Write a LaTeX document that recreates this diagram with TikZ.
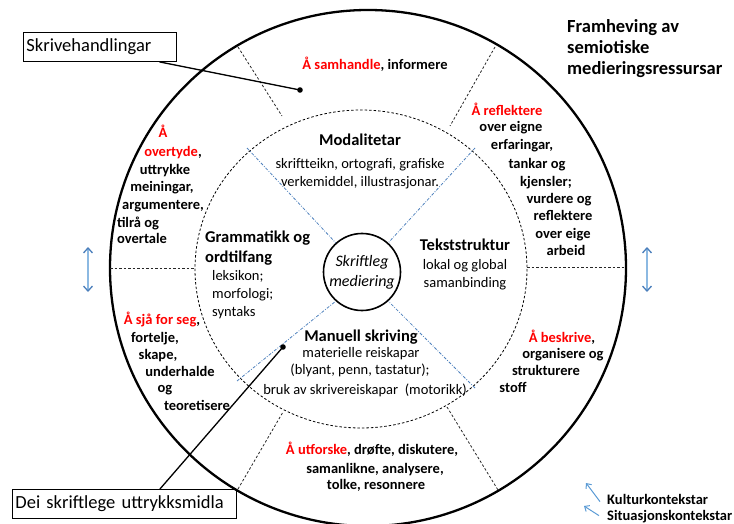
\documentclass[tikz,border=0pt]{standalone}
\usepackage{fontspec}
\setmainfont{Carlito}
\usetikzlibrary{arrows.meta,calc}
\definecolor{arrblue}{HTML}{5B9BD5}
\definecolor{headblue}{HTML}{4A7EBB}
\definecolor{lineblue}{HTML}{4F81BD}
\tikzset{
  segt/.style={font=\bfseries\fontsize{14.5}{17}\selectfont, inner sep=0pt, anchor=base},
  head/.style={font=\bfseries\fontsize{16.5}{19}\selectfont, inner sep=0pt, anchor=base},
  body/.style={font=\fontsize{14.5}{17}\selectfont, inner sep=0pt, anchor=base},
  titl/.style={font=\bfseries\fontsize{18.5}{21}\selectfont, inner sep=0pt, anchor=base west},
  callbox/.style={draw, line width=0.9pt, font=\fontsize{18.5}{21}\selectfont, inner sep=0pt, minimum height=29pt, anchor=north west, align=left},
  callline/.style={line width=1.3pt},
  ringdiv/.style={dash pattern=on 2.5pt off 2pt, line width=0.8pt, black!85},
  innerdiv/.style={dash pattern=on 3pt off 1.5pt on 0.8pt off 1.5pt, line width=0.8pt, lineblue},
  dblarrow/.style={{Straight Barb[length=5pt,width=9pt,line width=1.3pt,color=headblue]}-{Straight Barb[length=5pt,width=9pt,line width=1.3pt,color=headblue]}, line width=1.3pt, arrblue!70},
  legarrow/.style={-{Straight Barb[length=4pt,width=7pt,line width=1pt]}, line width=1pt, arrblue},
}
\newcommand{\red}[1]{\textcolor{red}{#1}}
\begin{document}
\begin{tikzpicture}[x=1pt,y=-1pt]
\useasboundingbox (0,0) rectangle (734,524);
% outer circle
\draw[line width=2.3pt] (368,268) circle [radius=258];
% inner dashed circle
\draw[dash pattern=on 2.5pt off 2pt, line width=0.8pt] (361,269) ellipse [x radius=166, y radius=159];
% ring dividers
\draw[ringdiv] (238,47) -- (282,116);
\draw[ringdiv] (495,47) -- (450,126);
\draw[ringdiv] (110,268) -- (195,268);
\draw[ringdiv] (527,267) -- (626,267);
\draw[ringdiv] (238,489) -- (283,412);
\draw[ringdiv] (447,407) -- (498,490);
% center node
\node[draw, circle, line width=1.6pt, minimum size=77pt, inner sep=0pt, align=center,
      font=\itshape\fontsize{16}{20}\selectfont] (c) at (362,272) {Skriftleg\\mediering};
% inner blue dividers
\draw[innerdiv] (247,148) -- (c.132);
\draw[innerdiv] (475,148) -- (c.48);
\draw[innerdiv] (237,381) -- (c.228);
\draw[innerdiv] (475,388) -- (c.312);
% double arrows
\draw[dblarrow] (88,247) -- (88,292);
\draw[dblarrow] (647,247) -- (647,292);
% title
\node[titl] (t1) at (567,33) {Framheving av};
\node[titl] (t2) at (567,54) {semiotiske};
\node[titl] (t3) at (567,75) {medieringsressursar};
% top segment
\node[segt] (a1) at (375,70) {\red{Å samhandle}, informere};
% upper right
\node[segt] (b1) at (507,116) {\red{Å reflektere}};
\node[segt] (b2) at (511,132) {over eigne};
\node[segt] (b3) at (522,150) {erfaringar,};
\node[segt] (b4) at (537,168) {tankar og};
\node[segt] (b5) at (546,186) {kjensler;};
\node[segt] (b6) at (559,204) {vurdere og};
\node[segt] (b7) at (563,221) {reflektere};
\node[segt] (b8) at (563,238) {over eige};
\node[segt] (b9) at (566,255) {arbeid};
% upper left
\node[segt] (l1) at (163,138) {\red{Å}};
\node[segt] (l2) at (173,157) {\red{overtyde},};
\node[segt] (l3) at (165,175) {uttrykke};
\node[segt] (l4) at (162,192) {meiningar,};
\node[segt] (l5) at (163,209) {argumentere,};
\node[segt] (l6) at (138,227) {tilrå og};
\node[segt] (l7) at (142,243) {overtale};
% lower left
\node[segt] (m1) at (162,324) {\red{Å sjå for seg},};
\node[segt] (m2) at (155,342) {fortelje,};
\node[segt] (m3) at (158,359) {skape,};
\node[segt] (m4) at (180,376) {underhalde};
\node[segt] (m5) at (165,392) {og};
\node[segt] (m6) at (197,410) {teoretisere};
% lower right
\node[segt] (n1) at (562,342) {\red{Å beskrive},};
\node[segt] (n2) at (563,358) {organisere og};
\node[segt] (n3) at (546,375) {strukturere};
\node[segt] (n4) at (513,392) {stoff};
% bottom
\node[segt] (o1) at (372,454) {\red{Å utforske}, drøfte, diskutere,};
\node[segt] (o2) at (375,473) {samanlikne, analysere,};
\node[segt] (o3) at (376,489) {tolke, resonnere};
% inner: Modalitetar
\node[head] (p1) at (360,146) {Modalitetar};
\node[body] (p2) at (360,168) {skriftteikn, ortografi, grafiske};
\node[body] (p3) at (360,186) {verkemiddel, illustrasjonar.};
% Grammatikk
\node[head, anchor=base west] (q1) at (205,242) {Grammatikk og};
\node[head, anchor=base west] (q2) at (205,262) {ordtilfang};
\node[body, anchor=base west] (q3) at (212,280) {leksikon;};
\node[body, anchor=base west] (q4) at (212,298) {morfologi;};
\node[body, anchor=base west] (q5) at (212,316) {syntaks};
% Tekststruktur
\node[head] (r1) at (465,251) {Tekststruktur};
\node[body] (r2) at (465,269) {lokal og global};
\node[body] (r3) at (465,287) {samanbinding};
% Manuell skriving
\node[head] (s1) at (361,341) {Manuell skriving};
\node[body] (s2) at (361,357) {materielle reiskapar};
\node[body] (s3) at (360,374) {(blyant, penn, tastatur);};
\node[body] (s4) at (365,394) {bruk av skrivereiskapar\ \ (motorikk)};
% callouts
\node[callbox, minimum width=153pt, text width=147pt, inner xsep=3pt] (k1) at (23,32) {Skrivehandlingar};
\coordinate (d1) at (300,90);
\draw[callline] ([xshift=59.5pt]k1.south) -- (d1);
\fill (d1) circle [radius=2.8];
\node[callbox, minimum width=223pt, text width=218pt, inner xsep=3pt] (k2) at (12,489) {Dei skriftlege uttrykksmidla};
\coordinate (d2) at (283,347);
\draw[callline] ([xshift=35.5pt]k2.north) -- (d2);
\fill (d2) circle [radius=2.8];
% legend
\node[segt, anchor=base west] (g1) at (607,504) {Kulturkontekstar};
\node[segt, anchor=base west] (g2) at (607,520) {Situasjonskontekstar};
\coordinate (e1) at (586,483);
\coordinate (e2) at (584,506);
\draw[legarrow] ([xshift=-7pt,yshift=-8pt]g1.north west) -- (e1);
\draw[legarrow] ([xshift=-8pt,yshift=-6pt]g2.north west) -- (e2);
\end{tikzpicture}
\end{document}
